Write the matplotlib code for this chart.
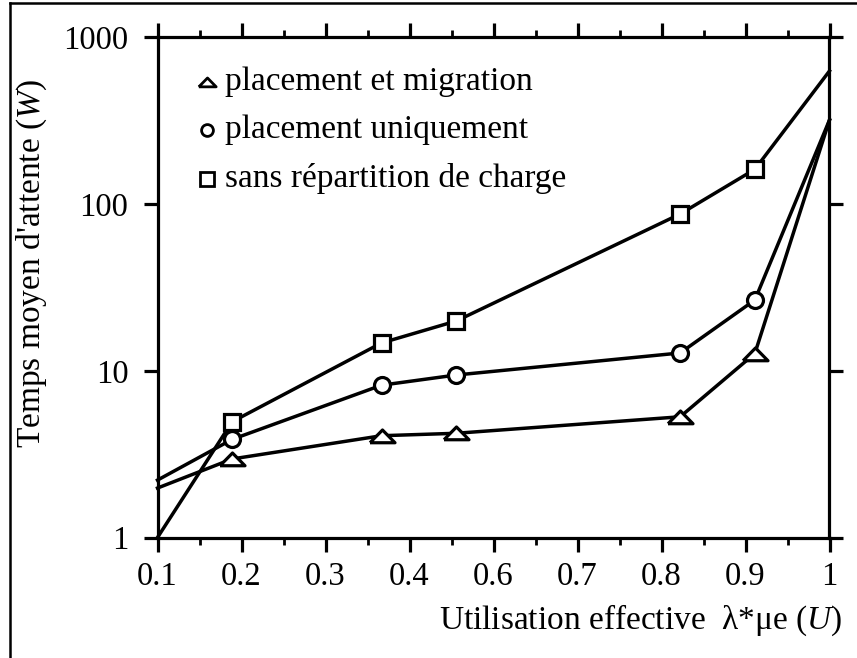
import matplotlib
matplotlib.use("Agg")
import matplotlib.pyplot as plt
from matplotlib.lines import Line2D
import numpy as np

plt.rcParams['font.family'] = ['Liberation Serif', 'DejaVu Serif']
plt.rcParams['mathtext.fontset'] = 'custom'
plt.rcParams['mathtext.rm'] = 'Liberation Serif'
plt.rcParams['mathtext.it'] = 'Liberation Serif:italic'

# Effective utilisation and mean waiting time per strategy
utilisation = [0.1, 0.2, 0.4, 0.5, 0.8, 0.9, 1.0]
w_migration = [1.98, 2.96, 4.08, 4.22, 5.3, 12.7, 320]
w_placement = [2.21, 3.88, 8.2, 9.44, 12.8, 26.6, 320]
w_sans = [1.0, 4.95, 14.7, 19.9, 87.3, 161.8, 630]

series_labels = ["placement et migration", "placement uniquement",
                 "sans répartition de charge"]

x_tick_labels = ['0.1', '0.2', '0.3', '0.4', '0.6', '0.7', '0.8', '0.9', '1']
y_ticks = [1, 10, 100, 1000]
y_tick_labels = ['1', '10', '100', '1000']

# Flattened triangle marker
tri = [(-1.0, -0.5), (1.0, -0.5), (0.0, 0.52), (-1.0, -0.5)]

W, H = 857, 658
fig = plt.figure(figsize=(W / 100, H / 100), dpi=100)
ax = fig.add_axes([157.5 / W, 1 - 537.5 / H, 672 / W, 500 / H])

lw = 2.5
mew = 2.3
styles = [
    dict(marker=tri, ms=18, key=w_migration),
    dict(marker='o', ms=11.5, key=w_placement),
    dict(marker='s', ms=12.2, key=w_sans),
]
for st in styles:
    y = st['key']
    ax.plot(utilisation, y, color='black', lw=lw, zorder=2, clip_on=False)
    ax.plot(utilisation[1:-1], y[1:-1], linestyle='none', marker=st['marker'],
            ms=st['ms'], mfc='white', mec='black', mew=mew, zorder=3)

ax.set_yscale('log')
ax.set_xlim(0.1, 1.0)
ax.set_ylim(1, 1000)

xt = np.linspace(0.1, 1.0, 9)
ax.set_xticks(xt)
ax.set_xticklabels(x_tick_labels)
ax.set_xticks((xt[:-1] + xt[1:]) / 2, minor=True)
ax.set_yticks(y_ticks)
ax.set_yticklabels(y_tick_labels)
ax.yaxis.set_minor_locator(matplotlib.ticker.NullLocator())

for s in ax.spines.values():
    s.set_linewidth(2.3)
ax.tick_params(which='major', direction='out', length=10, width=2.3,
               labelsize=23.5, top=True, right=True)
ax.tick_params(which='minor', direction='out', length=5, width=2.0,
               top=True, right=True)
ax.tick_params(axis='x', which='major', pad=7)
ax.tick_params(axis='y', which='major', pad=11)

# Legend drawn by hand inside the axes
leg_y = [0.911, 0.815, 0.717]
leg_markers = [(tri, 12.5), ('o', 8.5), ('s', 10.5)]
for (mk, ms), yy, lab in zip(leg_markers, leg_y, series_labels):
    ax.plot([0.0737], [yy], transform=ax.transAxes, marker=mk, ms=ms,
            mfc='white', mec='black', mew=2.0, linestyle='none')
    ax.text(0.1004, yy, lab, transform=ax.transAxes, fontsize=24,
            va='center', ha='left')

fig.text(32 / W, 1 - 264 / H, "Temps moyen d'attente ($W$)", rotation=90,
         fontsize=24, ha='center', va='center')
fig.text(842 / W, 1 - 620 / H, "Utilisation effective  λ*μe ($U$)",
         fontsize=24, ha='right', va='center')

# Outer frame around the figure
fig.add_artist(Line2D([10 / W, 10 / W], [0, 1 - 3 / H], color='black',
                      lw=1.8, transform=fig.transFigure))
fig.add_artist(Line2D([10 / W, 1], [1 - 3 / H, 1 - 3 / H], color='black',
                      lw=1.8, transform=fig.transFigure))

fig.savefig('out.png', dpi=100)
